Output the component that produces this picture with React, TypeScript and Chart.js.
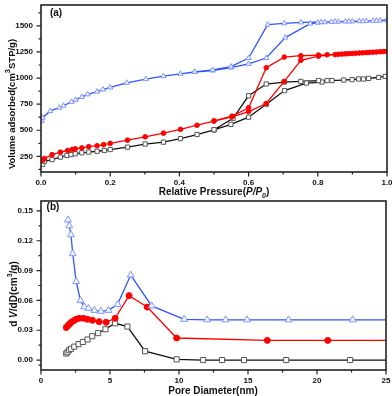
import React, { useEffect, useRef } from 'react';
import { Chart, registerables } from 'chart.js';

Chart.register(...registerables);

const FAM = '"Liberation Sans", Arial, sans-serif';

// ---------- Panel (a): isotherms (P/P0, volume) ----------
const isoBlack: [number, number][] = [
  [0.005, 175], [0.01, 203], [0.032, 219], [0.056, 243], [0.075, 259], [0.087, 267], [0.099, 275],
  [0.118, 284], [0.138, 291], [0.162, 299], [0.183, 306], [0.2, 315], [0.25, 338], [0.301, 368],
  [0.354, 386], [0.403, 420], [0.451, 459], [0.5, 503], [0.549, 556], [0.6, 625], [0.651, 750],
  [0.704, 880], [0.767, 952], [0.812, 962], [0.841, 976], [0.899, 985], [0.932, 991], [0.976, 1006],
  [0.995, 1016],
  [0.947, 997], [0.918, 991], [0.875, 981], [0.827, 976], [0.802, 976], [0.751, 968], [0.703, 962],
  [0.651, 943], [0.6, 830], [0.555, 615], [0.5, 505],
];
const isoRed: [number, number][] = [
  [0.005, 212], [0.01, 230], [0.032, 266], [0.056, 290], [0.077, 306], [0.09, 315], [0.099, 322],
  [0.118, 331], [0.138, 343], [0.162, 352], [0.181, 362], [0.2, 374], [0.25, 405], [0.301, 437],
  [0.354, 472], [0.403, 509], [0.451, 548], [0.5, 587], [0.552, 628], [0.6, 679], [0.651, 756],
  [0.703, 968], [0.751, 1170], [0.802, 1210], [0.85, 1225], [0.87, 1230], [0.89, 1234], [0.91, 1238],
  [0.93, 1242], [0.95, 1246], [0.97, 1250], [0.99, 1254], [1.0, 1256],
  [0.98, 1252], [0.96, 1248], [0.94, 1244], [0.92, 1240], [0.9, 1236], [0.88, 1232], [0.86, 1228],
  [0.827, 1223], [0.802, 1220], [0.751, 1214], [0.703, 1201], [0.651, 1099], [0.6, 716], [0.552, 635],
  [0.5, 590],
];
const isoBlue: [number, number][] = [
  [0.002, 590], [0.005, 620], [0.027, 685], [0.053, 716], [0.065, 735], [0.088, 772], [0.1, 791],
  [0.118, 819], [0.135, 844], [0.162, 870], [0.179, 890], [0.2, 910], [0.248, 955], [0.303, 990],
  [0.354, 1018], [0.403, 1040], [0.444, 1058], [0.496, 1072], [0.549, 1100], [0.6, 1136], [0.651, 1192],
  [0.706, 1388], [0.778, 1522], [0.8, 1530], [0.82, 1535], [0.84, 1538], [0.86, 1540], [0.88, 1542],
  [0.9, 1543], [0.92, 1545], [0.94, 1546], [0.96, 1548], [0.98, 1551], [1.0, 1555],
  [0.97, 1550], [0.93, 1545], [0.89, 1542], [0.85, 1540], [0.81, 1536], [0.751, 1533], [0.703, 1524],
  [0.655, 1512], [0.6, 1192], [0.549, 1110], [0.496, 1078], [0.444, 1060],
];
const isoXTicks = [0, 0.2, 0.4, 0.6, 0.8, 1.0];
const isoXMinor = [0.1, 0.3, 0.5, 0.7, 0.9];
const isoYTicks = [250, 500, 750, 1000, 1250, 1500];
const isoYMinor = [125, 375, 625, 875, 1125, 1375, 1625];

// ---------- Panel (b): pore size distribution (D nm, dV/dD) ----------
const psdBlack: [number, number][] = [
  [1.83, 0.0066], [1.92, 0.0079], [2.04, 0.0099], [2.17, 0.0113], [2.41, 0.0135], [2.72, 0.016],
  [3.03, 0.0182], [3.37, 0.0207], [3.71, 0.024], [4.14, 0.0271], [4.67, 0.031], [5.37, 0.037],
  [6.26, 0.0337], [7.54, 0.0089], [9.83, 0.0007], [11.75, 0], [13.12, 0], [14.71, 0], [17.77, 0],
  [22.4, 0], [27, 0],
];
const psdRed: [number, number][] = [
  [1.83, 0.0327], [1.95, 0.0347], [2.07, 0.0363], [2.19, 0.038], [2.36, 0.0396], [2.55, 0.041],
  [2.77, 0.042], [3.08, 0.042], [3.37, 0.041], [3.73, 0.04], [4.21, 0.0386], [4.72, 0.038],
  [5.37, 0.042], [6.38, 0.0648], [7.7, 0.0533], [9.83, 0.0222], [16.4, 0.0198], [20.78, 0.0198],
  [27, 0.0198],
];
const psdBlue: [number, number][] = [
  [1.95, 0.141], [2.05, 0.135], [2.17, 0.126], [2.3, 0.107], [2.55, 0.079], [2.86, 0.06],
  [3.13, 0.0535], [3.44, 0.052], [3.87, 0.05], [4.34, 0.049], [4.89, 0.05], [5.55, 0.056],
  [6.5, 0.0855], [8.02, 0.0545], [10.38, 0.041], [12.04, 0.0405], [13.37, 0.0405], [14.93, 0.0405],
  [17.94, 0.0405], [22.59, 0.0405], [27, 0.0405],
];
const psdXTicks = [0, 5, 10, 15, 20, 25];
const psdXMinor = [2.5, 7.5, 12.5, 17.5, 22.5];
const psdYTicks = [0, 0.03, 0.06, 0.09, 0.12, 0.15];
const psdYMinor = [-0.005, 0.015, 0.045, 0.075, 0.105, 0.135];

type Run = { t: string; f: string; dy?: number };

function drawRuns(ctx: CanvasRenderingContext2D, runs: Run[], cx: number, cy: number, rotate: boolean) {
  ctx.save();
  ctx.translate(cx, cy);
  if (rotate) ctx.rotate(-Math.PI / 2);
  ctx.fillStyle = '#111';
  ctx.textBaseline = 'alphabetic';
  ctx.textAlign = 'left';
  let total = 0;
  for (const r of runs) { ctx.font = r.f; total += ctx.measureText(r.t).width; }
  let x = -total / 2;
  for (const r of runs) {
    ctx.font = r.f;
    ctx.fillText(r.t, x, r.dy || 0);
    x += ctx.measureText(r.t).width;
  }
  ctx.restore();
}

function decorPlugin(
  xMajor: number[], xMinor: number[], yMajor: number[], yMinor: number[],
  draw: (ctx: CanvasRenderingContext2D) => void,
) {
  return {
    id: 'decor',
    afterDraw(chart: any) {
      const { ctx, chartArea: a, scales } = chart;
      const x = scales.x, y = scales.y;
      ctx.save();
      ctx.strokeStyle = '#222';
      ctx.lineWidth = 1.2;
      ctx.beginPath();
      const xt = (v: number, len: number) => {
        const px = x.getPixelForValue(v);
        ctx.moveTo(px, a.bottom); ctx.lineTo(px, a.bottom + len);
      };
      const yt = (v: number, len: number) => {
        const py = y.getPixelForValue(v);
        if (py < a.top || py > a.bottom) return;
        ctx.moveTo(a.left, py); ctx.lineTo(a.left - len, py);
      };
      xMajor.forEach(v => xt(v, 4.5));
      xMinor.forEach(v => xt(v, 2.5));
      yMajor.forEach(v => yt(v, 4.5));
      yMinor.forEach(v => yt(v, 2.5));
      ctx.stroke();
      ctx.lineWidth = 1.6;
      ctx.strokeRect(a.left, a.top, a.right - a.left, a.bottom - a.top);
      ctx.restore();
      draw(ctx);
    },
  };
}

const tickFont = { family: FAM, size: 8, weight: 'bold' as const };

function makeScales(
  xMin: number, xMax: number, yMin: number, yMax: number,
  xTicks: number[], yTicks: number[], xFmt: (v: number) => string, yFmt: (v: number) => string,
  xHeight: number, yWidth: number,
) {
  return {
    x: {
      type: 'linear' as const, min: xMin, max: xMax,
      afterBuildTicks: (s: any) => { s.ticks = xTicks.map(v => ({ value: v })); },
      afterFit: (s: any) => { s.height = xHeight; s.paddingLeft = 0; s.paddingRight = 0; },
      ticks: { font: tickFont, color: '#111', padding: 6, maxRotation: 0, autoSkip: false, callback: (v: any) => xFmt(Number(v)) },
      grid: { display: false, drawTicks: false },
      border: { display: false },
    },
    y: {
      type: 'linear' as const, min: yMin, max: yMax,
      afterBuildTicks: (s: any) => { s.ticks = yTicks.map(v => ({ value: v })); },
      afterFit: (s: any) => { s.width = yWidth; s.paddingTop = 0; s.paddingBottom = 0; },
      ticks: { font: tickFont, color: '#111', padding: 8, autoSkip: false, callback: (v: any) => yFmt(Number(v)) },
      grid: { display: false, drawTicks: false },
      border: { display: false },
    },
  };
}

const pts = (a: [number, number][]) => a.map(([x, y]) => ({ x, y }));

function ds(data: [number, number][], kind: 'black' | 'red' | 'blue', big: boolean) {
  const base = { data: pts(data), showLine: true, tension: 0, borderWidth: 1.3, pointBorderWidth: 1 };
  if (kind === 'black') return { ...base, borderColor: '#111', pointStyle: 'rect', pointRadius: big ? 3.6 : 3, pointBackgroundColor: '#fff', pointBorderColor: '#555' };
  if (kind === 'red') return { ...base, borderColor: '#ff0000', pointStyle: 'circle', pointRadius: big ? 3 : 2.3, pointBackgroundColor: '#ff0000', pointBorderColor: '#ff0000' };
  return { ...base, borderColor: '#2f55ff', pointStyle: 'triangle', pointRadius: big ? 4 : 3, pointBackgroundColor: '#f4f6ff', pointBorderColor: '#7e96ff' };
}

export default function App() {
  const topRef = useRef<HTMLCanvasElement>(null);
  const botRef = useRef<HTMLCanvasElement>(null);

  useEffect(() => {
    document.body.style.margin = '0';
    const B = (s: number) => `bold ${s}px ${FAM}`;
    const BI = (s: number) => `italic bold ${s}px ${FAM}`;

    const top = new Chart(topRef.current!, {
      type: 'scatter',
      data: { datasets: [ds(isoBlue, 'blue', false), ds(isoRed, 'red', false), ds(isoBlack, 'black', false)] as any },
      options: {
        animation: false, responsive: false, maintainAspectRatio: false,
        layout: { padding: { left: 0, right: 5, top: 1, bottom: 0 } },
        plugins: { legend: { display: false }, tooltip: { enabled: false } },
        scales: makeScales(0, 1, 100, 1700, isoXTicks, isoYTicks, v => v.toFixed(1), v => String(v), 28, 41) as any,
      },
      plugins: [decorPlugin(isoXTicks, isoXMinor, isoYTicks, isoYMinor, ctx => {
        drawRuns(ctx, [{ t: 'Relative Pressure(', f: B(10) }, { t: 'P/P', f: BI(10) }, { t: '0', f: BI(7), dy: 3 }, { t: ')', f: B(10) }], 214, 194.5, false);
        drawRuns(ctx, [{ t: 'Volume adsorbed(cm', f: B(9.5) }, { t: '3', f: B(7.5), dy: -5 }, { t: 'STP/g)', f: B(9.5) }], 15, 104, true);
        drawRuns(ctx, [{ t: '(a)', f: B(10) }], 56, 15.5, false);
      })],
    });

    const bot = new Chart(botRef.current!, {
      type: 'scatter',
      data: { datasets: [ds(psdBlue, 'blue', true), ds(psdRed, 'red', true), ds(psdBlack, 'black', true)] as any },
      options: {
        animation: false, responsive: false, maintainAspectRatio: false,
        layout: { padding: { left: 0, right: 6, top: 3, bottom: 0 } },
        plugins: { legend: { display: false }, tooltip: { enabled: false } },
        scales: makeScales(0, 25, -0.01, 0.16, psdXTicks, psdYTicks, v => String(v), v => v.toFixed(2), 26, 41) as any,
      },
      plugins: [decorPlugin(psdXTicks, psdXMinor, psdYTicks, psdYMinor, ctx => {
        drawRuns(ctx, [{ t: 'Pore Diameter(nm)', f: B(10) }], 213, 197.5, false);
        drawRuns(ctx, [{ t: 'd ', f: B(10) }, { t: 'V', f: BI(10) }, { t: '/dD(cm', f: B(10) }, { t: '3', f: B(7), dy: -5 }, { t: '/g)', f: B(10) }], 17, 98, true);
        drawRuns(ctx, [{ t: '(b)', f: B(10) }], 53, 13.5, false);
      })],
    });

    return () => { top.destroy(); bot.destroy(); };
  }, []);

  return (
    <div style={{ position: 'relative', width: 392, height: 396, background: '#fff' }}>
      <canvas ref={topRef} width={392} height={200} style={{ position: 'absolute', left: 0, top: 0, width: 392, height: 200 }} />
      <canvas ref={botRef} width={392} height={200} style={{ position: 'absolute', left: 0, top: 196, width: 392, height: 200 }} />
    </div>
  );
}
